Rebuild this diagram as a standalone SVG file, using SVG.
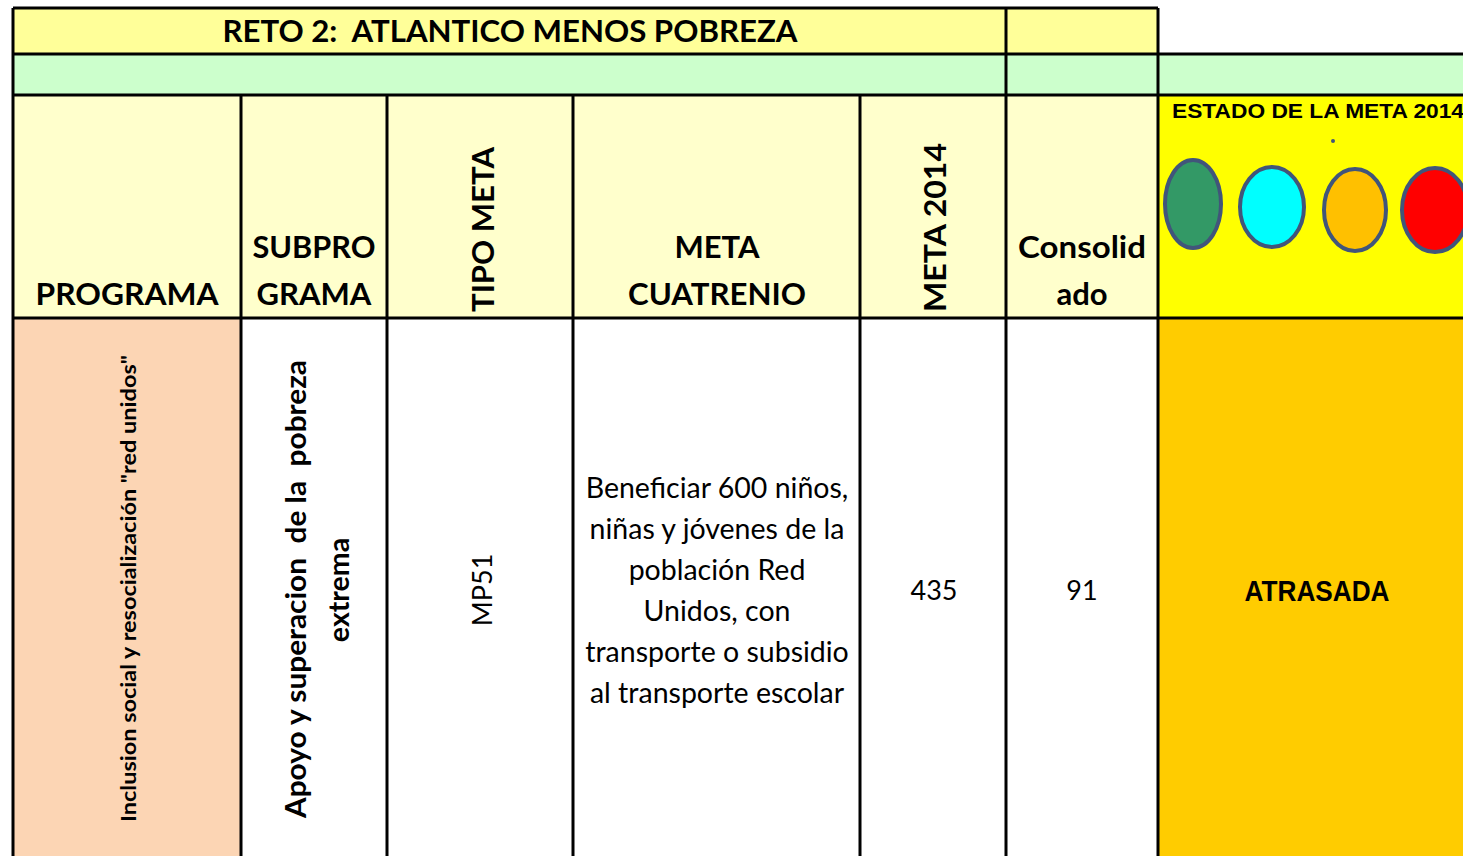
<svg xmlns="http://www.w3.org/2000/svg" width="1463" height="856" viewBox="0 0 1463 856">
<style>
.b{font-family:Lato,"Liberation Sans",sans-serif;font-weight:bold;fill:#000}
.r{font-family:Lato,"Liberation Sans",sans-serif;font-weight:normal;fill:#000}
.g{stroke:#000;stroke-width:3;fill:none}
.e{stroke:#41557A;stroke-width:4}
.m{font-size:28.5px}
</style>
<rect width="1463" height="856" fill="#fff"/>
<g id="fills">
<rect x="13" y="8" width="1145" height="46" fill="#FFFF99"/>
<rect x="13" y="54" width="1450" height="41" fill="#CCFFCC"/>
<rect x="13" y="95" width="1145" height="223" fill="#FFFFCC"/>
<rect x="1158" y="95" width="305" height="223" fill="#FFFF00"/>
<rect x="13" y="318" width="228" height="538" fill="#FCD5B4"/>
<rect x="1158" y="318" width="305" height="538" fill="#FFCC00"/>
</g>
<g id="grid" class="g">
<path d="M13 8H1158M13 54H1463M13 95H1463M13 318H1463"/>
<path d="M13 8V856M1006 8V856M1158 8V856M241 95V856M387 95V856M573 95V856M860 95V856"/>
</g>
<g id="title"><text class="b" x="510" y="42" font-size="31" text-anchor="middle" textLength="575" lengthAdjust="spacingAndGlyphs" xml:space="preserve">RETO 2:  ATLANTICO MENOS POBREZA</text></g>
<g id="h-programa"><text class="b" x="127" y="305" font-size="31" text-anchor="middle" textLength="183" lengthAdjust="spacingAndGlyphs">PROGRAMA</text></g>
<g id="h-subprograma"><text class="b" x="314" y="258" font-size="31" text-anchor="middle" textLength="123" lengthAdjust="spacingAndGlyphs">SUBPRO</text><text class="b" x="314" y="305" font-size="31" text-anchor="middle">GRAMA</text></g>
<g id="h-tipo"><text class="b" transform="translate(494,229.5) rotate(-90)" font-size="31" text-anchor="middle" textLength="165" lengthAdjust="spacingAndGlyphs">TIPO META</text></g>
<g id="h-meta"><text class="b" x="717" y="258" font-size="31" text-anchor="middle">META</text><text class="b" x="717" y="305" font-size="31" text-anchor="middle" textLength="178" lengthAdjust="spacingAndGlyphs">CUATRENIO</text></g>
<g id="h-meta2014"><text class="b" transform="translate(946,227.5) rotate(-90)" font-size="31" text-anchor="middle" textLength="169" lengthAdjust="spacingAndGlyphs">META 2014</text></g>
<g id="h-consolidado"><text class="b" x="1082" y="258" font-size="31" text-anchor="middle" textLength="128" lengthAdjust="spacingAndGlyphs">Consolid</text><text class="b" x="1082" y="305" font-size="31" text-anchor="middle">ado</text></g>
<g id="h-estado">
<text x="1172" y="118" font-family="'Liberation Sans',Arial,sans-serif" font-weight="bold" font-size="21" textLength="292" lengthAdjust="spacingAndGlyphs">ESTADO DE LA META 2014</text>
<circle cx="1333" cy="141" r="2" fill="#41557A"/>
<ellipse class="e" cx="1193" cy="204" rx="28" ry="44" fill="#339966"/>
<ellipse class="e" cx="1272" cy="207" rx="32" ry="40" fill="#00FFFF"/>
<ellipse class="e" cx="1355" cy="210" rx="31" ry="41" fill="#FFC000"/>
<ellipse class="e" cx="1435" cy="210" rx="33" ry="42" fill="#FF0000"/>
</g>
<g id="d-programa"><text class="b" transform="translate(136,588.5) rotate(-90)" font-size="21" text-anchor="middle" textLength="467" lengthAdjust="spacingAndGlyphs">Inclusion social y resocialización "red unidos"</text></g>
<g id="d-subprograma"><text class="b" transform="translate(306,589) rotate(-90)" font-size="28.5" text-anchor="middle" textLength="458" lengthAdjust="spacingAndGlyphs" xml:space="preserve">Apoyo y superacion  de la  pobreza</text><text class="b" transform="translate(349,590) rotate(-90)" font-size="28.5" text-anchor="middle">extrema</text></g>
<g id="d-tipo"><text class="r" transform="translate(492,590) rotate(-90)" font-size="27" text-anchor="middle">MP51</text></g>
<g id="d-meta">
<text class="r m" x="717" y="498" text-anchor="middle">Beneficiar 600 niños,</text>
<text class="r m" x="717" y="539" text-anchor="middle">niñas y jóvenes de la</text>
<text class="r m" x="717" y="580" text-anchor="middle">población Red</text>
<text class="r m" x="717" y="621" text-anchor="middle">Unidos, con</text>
<text class="r m" x="717" y="662" text-anchor="middle">transporte o subsidio</text>
<text class="r m" x="717" y="703" text-anchor="middle">al transporte escolar</text>
</g>
<g id="d-meta2014"><text class="r" x="934" y="600" font-size="27" text-anchor="middle">435</text></g>
<g id="d-consolidado"><text class="r" x="1082" y="600" font-size="27" text-anchor="middle">91</text></g>
<g id="d-estado"><text x="1317" y="601" font-family="'Liberation Sans',Arial,sans-serif" font-weight="bold" font-size="29" text-anchor="middle" textLength="145" lengthAdjust="spacingAndGlyphs">ATRASADA</text></g>
</svg>
